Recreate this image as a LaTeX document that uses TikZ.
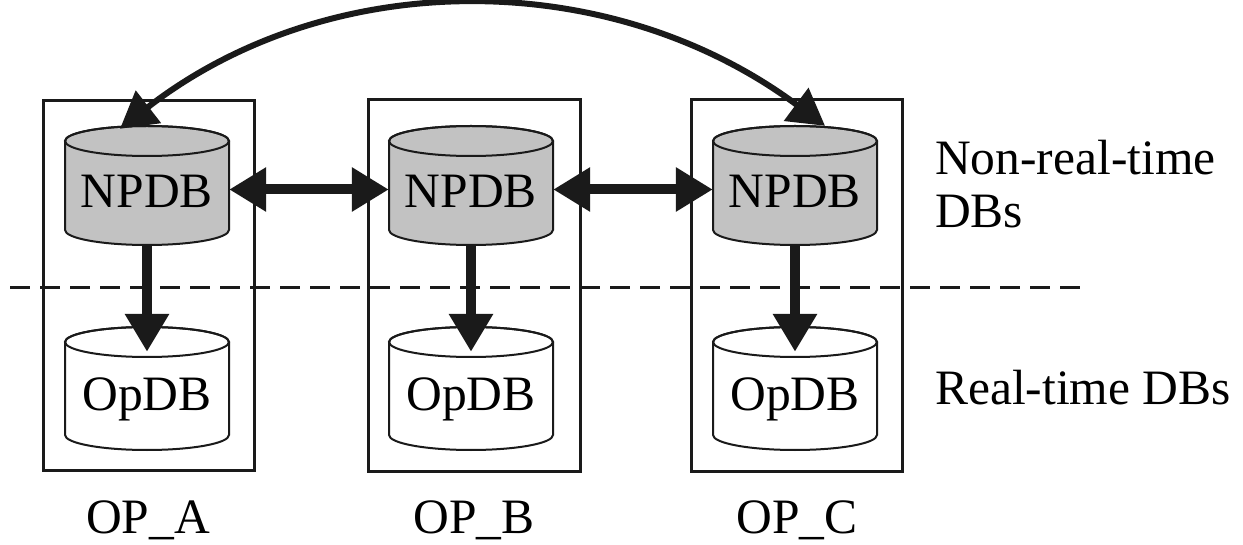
\documentclass[tikz,border=0pt]{standalone}
\usepackage{fontspec}
\setmainfont{Liberation Serif}
\usetikzlibrary{arrows.meta}
\definecolor{ink}{HTML}{1A1A1A}
\definecolor{dbgrey}{HTML}{C2C2C2}
\newcommand{\dbcyl}[6]{% name, cx, ytop-ellipse-centre, ybottom-ellipse-centre, fill, text
  \path[draw=ink, line width=2pt, fill=#5]
    (#2-82,#3) -- (#2-82,#4) arc[start angle=180, end angle=0, x radius=82, y radius=15]
    -- (#2+82,#3) arc[start angle=0, end angle=-180, x radius=82, y radius=15] -- cycle;
  \draw[ink, line width=2pt] (#2,#3) ellipse [x radius=82, y radius=15];
  \node[inner sep=0pt, minimum width=164pt, minimum height={#4-#3+30}] (#1) at (#2,{(#3+#4)/2}) {};
  \node[lbl, anchor=base] at (#2,{(#3+#4)/2+22}) {#6};
}
\begin{document}
\begin{tikzpicture}[x=1pt, y=-1pt,
  lbl/.style={font=\fontsize{49.5}{53}\selectfont, text=black, inner sep=0pt},
  opbox/.style={draw=ink, line width=3pt},
  thick arrow/.style={ink, line width=10pt, -{Triangle[length=38pt, width=42pt]}},
  both arrow/.style={ink, line width=10pt, {Triangle[length=37pt, width=42pt]}-{Triangle[length=37pt, width=42pt]}},
  curve arrow/.style={ink, line width=6pt, {Triangle[length=36pt, width=40pt]}-{Triangle[length=36pt, width=40pt]}},
  sep line/.style={ink, line width=3pt, dash pattern=on 20pt off 10pt}]
\useasboundingbox (0,0) rectangle (1243,545);
% operator boxes
\node[opbox, minimum width=211pt, minimum height=369pt, inner sep=0pt] (boxA) at (148.5,285.5) {};
\node[opbox, minimum width=212pt, minimum height=371pt, inner sep=0pt] (boxB) at (474,285.5) {};
\node[opbox, minimum width=211pt, minimum height=372pt, inner sep=0pt] (boxC) at (796.5,285.5) {};
% separator
\coordinate (sepL) at (10,288);
\coordinate (sepR) at (1085,288);
\draw[sep line] (sepL) -- (sepR);
% databases
\dbcyl{npA}{147}{141}{230}{dbgrey}{NPDB}
\dbcyl{npB}{471}{141}{230}{dbgrey}{NPDB}
\dbcyl{npC}{795}{141}{230}{dbgrey}{NPDB}
\dbcyl{opA}{147}{342}{435}{white}{OpDB}
\dbcyl{opB}{471}{342}{435}{white}{OpDB}
\dbcyl{opC}{795}{342}{435}{white}{OpDB}
% arrows
\draw[thick arrow] (npA.south) -- ([yshift=-25pt]opA.north);
\draw[thick arrow] (npB.south) -- ([yshift=-25pt]opB.north);
\draw[thick arrow] (npC.south) -- ([yshift=-25pt]opC.north);
\draw[both arrow] ([yshift=-4pt]npA.east) -- ([yshift=-4pt]npB.west);
\draw[both arrow] ([yshift=-4pt]npB.east) -- ([yshift=-4pt]npC.west);
\draw[curve arrow] ([xshift=-27pt,yshift=-3pt]npA.north)
  .. controls (330,-34) and (610,-34) .. ([xshift=30pt]npC.north);
% labels
\node[lbl, anchor=base west, align=left] (nrt) at (935,228) {Non-real-time\\DBs};
\node[lbl, anchor=base west] (rt) at (935,405) {Real-time DBs};
\node[lbl, anchor=base] (labA) at (148,533) {OP\_A};
\node[lbl, anchor=base] (labB) at (474,533) {OP\_B};
\node[lbl, anchor=base] (labC) at (797,533) {OP\_C};
\end{tikzpicture}
\end{document}
